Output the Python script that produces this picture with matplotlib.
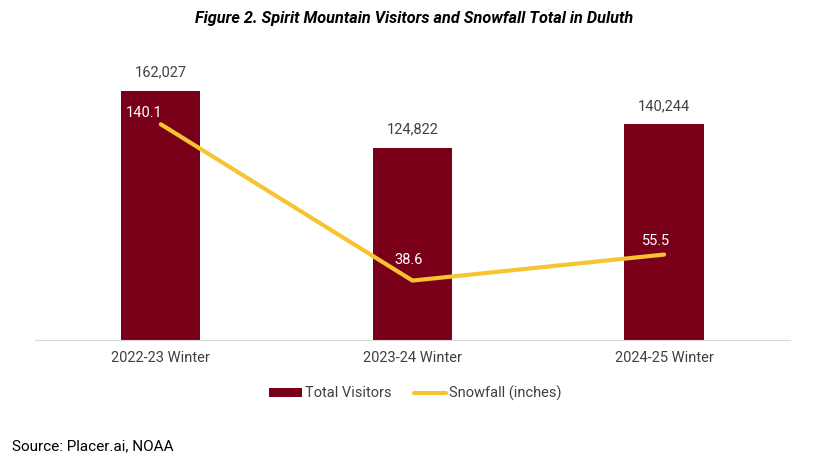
import matplotlib.pyplot as plt

seasons = ["2022-23 Winter", "2023-24 Winter", "2024-25 Winter"]
visitors = [162027, 124822, 140244]
snowfall = [140.1, 38.6, 55.5]

bar_color = "#7A0019"
line_color = "#F7C431"
text_color = "#404040"

plt.rcParams["font.family"] = ["Roboto", "DejaVu Sans"]

fig = plt.figure(figsize=(8.28, 4.62), dpi=100)
ax = fig.add_axes([0.0423, 0.264, 0.9117, 0.600])
ax2 = ax.twinx()

x = list(range(len(seasons)))
bars = ax.bar(x, visitors, width=0.315, color=bar_color, label="Total Visitors", zorder=2)
ax.set_xlim(-0.5, 2.5)
ax.set_ylim(0, 180000)
for xi, v in zip(x, visitors):
    ax.annotate(f"{v:,}", (xi, v), xytext=(0, 8), textcoords="offset points",
                ha="center", va="bottom", fontsize=10.5, color=text_color)

line, = ax2.plot(x, snowfall, color=line_color, linewidth=3, label="Snowfall (inches)",
                 solid_capstyle="round", zorder=3)
ax2.set_ylim(0, 180)
offsets = [(-12, 3), (-3, 10), (-6, 5)]
for xi, s, off in zip(x, snowfall, offsets):
    ax2.annotate(f"{s}", (xi, s), xytext=off, textcoords="offset points",
                 ha="center", va="bottom", fontsize=10.5, color="white")

for a in (ax, ax2):
    for side in ("left", "right", "top"):
        a.spines[side].set_visible(False)
    a.set_yticks([])
ax.spines["bottom"].set_color("#D9D9D9")
ax2.spines["bottom"].set_visible(False)
ax.set_xticks(x)
ax.set_xticklabels(seasons, fontsize=10.5, color=text_color)
ax.tick_params(axis="x", length=0, pad=8)

fig.text(0.5, 0.96, "Figure 2. Spirit Mountain Visitors and Snowfall Total in Duluth",
         ha="center", va="center", fontsize=11.7, fontweight="bold", style="italic",
         color="black")

fig.legend(handles=[bars, line], loc="center", bbox_to_anchor=(0.502, 0.149), ncol=2,
           frameon=False, fontsize=10.5, handlelength=2.2, handleheight=0.6,
           columnspacing=1.5, handletextpad=0.25, labelcolor=text_color)

fig.text(0.0145, 0.035, "Source: Placer.ai, NOAA", ha="left", va="center",
         fontsize=11, color="black")

fig.savefig("out.png", dpi=100)
